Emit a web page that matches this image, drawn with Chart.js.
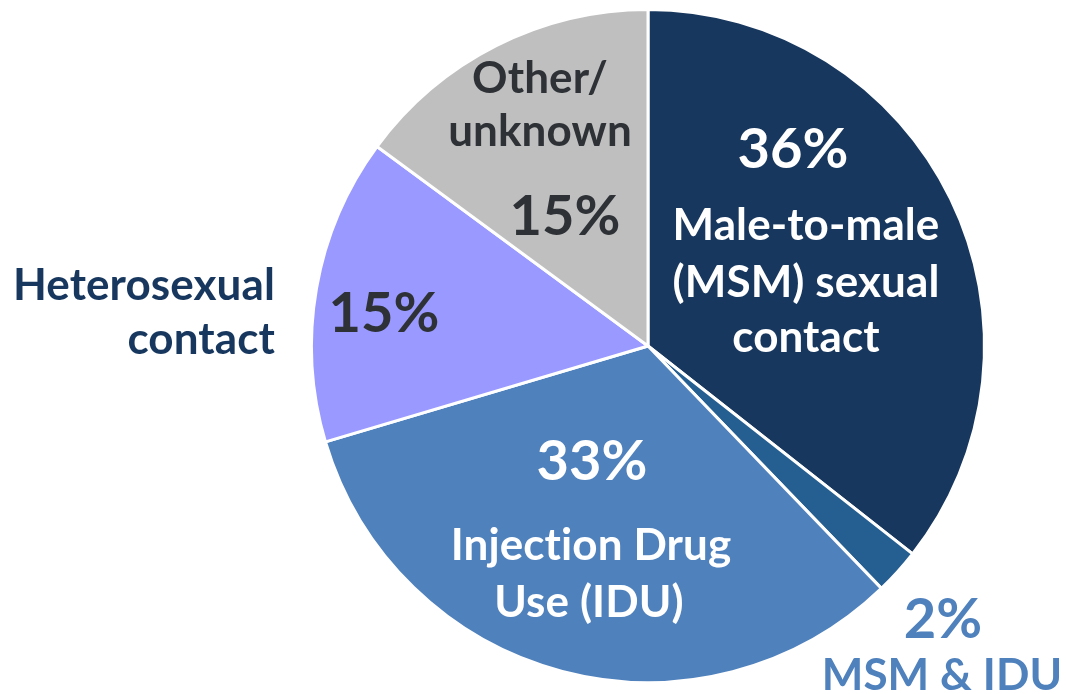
<!DOCTYPE html>
<html>
<head>
<meta charset="utf-8">
<script src="https://cdn.jsdelivr.net/npm/chart.js@4.4.1/dist/chart.umd.min.js"></script>
<style>
  html, body { margin: 0; padding: 0; background: #ffffff; }
  #wrap { width: 1066px; height: 694px; position: relative; }
</style>
</head>
<body>
<div id="wrap"><canvas id="c" width="1066" height="694"></canvas></div>
<script>
// Data
const categories = ["Male-to-male (MSM) sexual contact", "MSM & IDU", "Injection Drug Use (IDU)", "Heterosexual contact", "Other/unknown"];
const shares = [35.6, 2.2, 32.6, 14.7, 14.9];
const pctLabels = ["36%", "2%", "33%", "15%", "15%"];
const sliceColors = ["#17375E", "#255E91", "#4F81BD", "#9999FF", "#BFBFBF"];

const FONT = "Lato, 'Open Sans', sans-serif";
const DARK = "#2E3236";
const TS = 44; // text label size
const PS = 56; // percent label size

// label layout: lines drawn relative to pie centre (dx, dy baseline offsets in px)
const labelLayout = [
  { lines: [
      { t: pctLabels[0], dx: 145, dy: -178, size: PS, color: "#ffffff" },
      { t: "Male-to-male", dx: 158, dy: -106, size: TS, color: "#ffffff" },
      { t: "(MSM) sexual", dx: 158, dy: -49, size: TS, color: "#ffffff" },
      { t: "contact", dx: 158, dy: 6, size: TS, color: "#ffffff" } ] },
  { lines: [
      { t: pctLabels[1], dx: 295, dy: 292, size: PS, color: "#4F81BD" },
      { t: "MSM & IDU", dx: 294, dy: 344, size: TS, color: "#4F81BD" } ] },
  { lines: [
      { t: pctLabels[2], dx: -56, dy: 134, size: PS, color: "#ffffff" },
      { t: "Injection Drug", dx: -57, dy: 214, size: TS, color: "#ffffff" },
      { t: "Use (IDU)", dx: -59, dy: 271, size: TS, color: "#ffffff" } ] },
  { lines: [
      { t: pctLabels[3], dx: -264, dy: -14, size: PS, color: DARK },
      { t: "Heterosexual", dx: -373, dy: -46, size: TS, color: "#17375E", align: "right" },
      { t: "contact", dx: -373, dy: 8, size: TS, color: "#17375E", align: "right" } ] },
  { lines: [
      { t: "Other/", dx: -108, dy: -253, size: TS, color: DARK },
      { t: "unknown", dx: -108, dy: -200, size: TS, color: DARK },
      { t: pctLabels[4], dx: -83, dy: -111, size: PS, color: DARK } ] }
];

const labelPlugin = {
  id: 'sliceLabels',
  afterDraw(chart) {
    const arc = chart.getDatasetMeta(0).data[0];
    const cx = arc.x, cy = arc.y;
    const ctx = chart.ctx;
    ctx.save();
    ctx.textBaseline = 'alphabetic';
    if ('letterSpacing' in ctx) ctx.letterSpacing = '0.1px'; // avoids "ti" ligature
    labelLayout.forEach(group => {
      group.lines.forEach(l => {
        ctx.font = "bold " + l.size + "px " + FONT;
        ctx.fillStyle = l.color;
        ctx.textAlign = l.align || 'center';
        ctx.fillText(l.t, cx + l.dx, cy + l.dy);
      });
    });
    ctx.restore();
  }
};

new Chart(document.getElementById('c'), {
  type: 'pie',
  data: {
    labels: categories,
    datasets: [{
      data: shares,
      backgroundColor: sliceColors,
      borderColor: "#ffffff",
      borderWidth: 3
    }]
  },
  options: {
    responsive: false,
    animation: false,
    layout: { padding: { left: 310, right: 80, top: 8, bottom: 10 } },
    plugins: { legend: { display: false }, tooltip: { enabled: false } }
  },
  plugins: [labelPlugin]
});
</script>
</body>
</html>
